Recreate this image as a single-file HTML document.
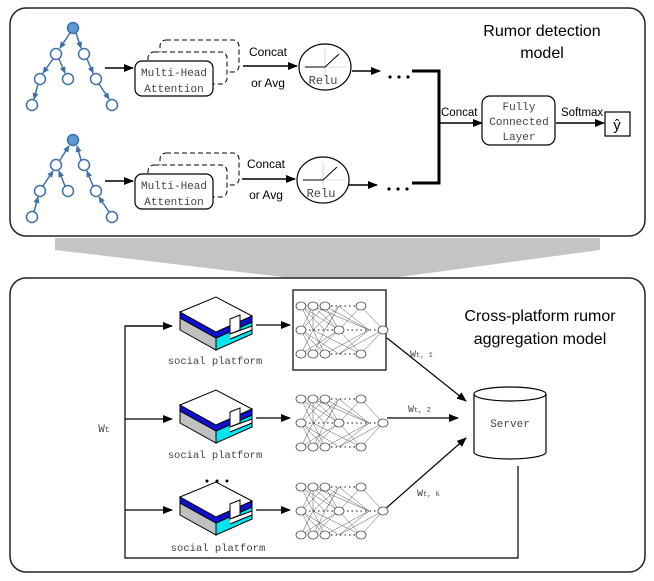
<!DOCTYPE html>
<html><head><meta charset="utf-8"><style>
html,body{margin:0;padding:0;background:#fff;width:654px;height:581px;overflow:hidden}
svg{display:block}
.s{font-family:"Liberation Mono","Noto Sans CJK SC",monospace;fill:#444}
.a{font-family:"Liberation Sans",sans-serif;fill:#000}
</style></head><body>
<svg width="654" height="581" viewBox="0 0 654 581" xmlns="http://www.w3.org/2000/svg">
<defs>
<marker id="ar" markerWidth="10" markerHeight="8" refX="9" refY="4" orient="auto" markerUnits="userSpaceOnUse"><path d="M0,0L10,4L0,8z" fill="#000"/></marker>
<marker id="ab" markerWidth="7" markerHeight="6" refX="6" refY="3" orient="auto" markerUnits="userSpaceOnUse"><path d="M0,0L7,3L0,6z" fill="#3d6fa8"/></marker>
<g id="plat" stroke="#000" stroke-width="1">
<path d="M0,6L36,26L36,38L0,18z" fill="#c0c0c0"/>
<path d="M36,26L72,10L72,22L36,38z" fill="#00e5f0"/>
<path d="M0,0L36,20L72,4L72,10L36,26L0,6z" fill="#1010d0"/>
<path d="M0,0L36,-15L72,4L36,20z" fill="#fff"/>
<path d="M50,7L60,3L60,18L50,22z" fill="#fff"/>
<path d="M50,22L72,14L72,18L50,27" fill="#fff"/>
</g>
<g id="nn" stroke="#555" stroke-width="0.5" fill="none">
<path d="M10,-24L-2,0M10,-24L10,0M10,-24L36,0M10,-24L66,0M-2,-24L10,0M-2,-24L36,0M22,-24L-2,0M22,-24L36,0M22,-24L66,0M36,-24L10,0M36,-24L66,0M58,-24L36,0M58,-24L80,0M-2,0L10,24M-2,0L22,24M-2,0L36,24M10,0L-2,24M10,0L22,24M10,0L58,24M36,0L-2,24M36,0L10,24M36,0L58,24M66,0L22,24M66,0L36,24M80,0L58,24M80,0L36,24M-2,-24L22,0M36,-24L22,0M22,0L10,24M22,0L36,-24"/>
<g fill="#fff" stroke="#444" stroke-width="0.8">
<ellipse cx="-2" cy="-24" rx="5" ry="4"/><ellipse cx="10" cy="-24" rx="5" ry="4"/><ellipse cx="22" cy="-24" rx="5" ry="4"/><ellipse cx="58" cy="-24" rx="5" ry="4"/>
<ellipse cx="-2" cy="0" rx="5" ry="4"/><ellipse cx="36" cy="0" rx="5" ry="4"/><ellipse cx="80" cy="0" rx="5" ry="4"/>
<ellipse cx="-2" cy="24" rx="5" ry="4"/><ellipse cx="10" cy="24" rx="5" ry="4"/><ellipse cx="22" cy="24" rx="5" ry="4"/><ellipse cx="58" cy="24" rx="5" ry="4"/>
</g>
<g stroke="#444" stroke-width="1.2" stroke-dasharray="1.5 3"><path d="M28,-24H52M6,0H30M44,0H74M28,24H52"/></g>
</g>
<g id="relu"><ellipse cx="0" cy="0" rx="26" ry="23" fill="#fff" stroke="#000" stroke-width="1.2"/>
<path d="M-22,0H22M0,-18V8" stroke="#bbb" stroke-width="0.6"/><path d="M-20,0H0L14,-13" stroke="#000" stroke-width="1" fill="none"/>
<text x="-2" y="17" class="s" font-size="12" text-anchor="middle" fill="#333">Relu</text></g>
<g id="mha">
<rect x="160" y="-28" width="79" height="32" rx="6" fill="#fff" stroke="#000" stroke-dasharray="5 3"/>
<rect x="148" y="-16" width="79" height="32" rx="6" fill="#fff" stroke="#000" stroke-dasharray="5 3"/>
<rect x="135" y="-7" width="78" height="35" rx="7" fill="#fff" stroke="#000" stroke-width="1.2"/>
<text x="174" y="8" class="s" font-size="11" text-anchor="middle">Multi-Head</text>
<text x="174" y="24" class="s" font-size="11" text-anchor="middle">Attention</text>
</g>
</defs>

<rect x="10" y="8" width="635" height="228" rx="16" fill="#fff" stroke="#222" stroke-width="1.5"/>
<polygon points="55,238 600,238 600,250 362,282 325,282 55,250" fill="#c4c4c4"/>
<rect x="10" y="278" width="635" height="294" rx="16" fill="#fff" stroke="#222" stroke-width="1.5"/>

<g stroke="#3d6fa8" stroke-width="1.5" marker-end="url(#ab)">
<line x1="70" y1="33" x2="60" y2="48"/><line x1="76" y1="33" x2="81" y2="48"/>
<line x1="53" y1="59" x2="43" y2="73"/><line x1="59" y1="59" x2="65" y2="73"/>
<line x1="87" y1="59" x2="93" y2="73"/><line x1="38" y1="84" x2="34" y2="99"/><line x1="99" y1="84" x2="109" y2="99"/>
</g>
<g stroke="#3d6fa8" stroke-width="1.5" fill="#fff">
<circle cx="73" cy="28" r="5.5" fill="#5b9bd5"/><circle cx="56" cy="54" r="5.5"/><circle cx="84" cy="54" r="5.5"/>
<circle cx="40" cy="79" r="5.5"/><circle cx="68" cy="79" r="5.5"/><circle cx="96" cy="79" r="5.5"/>
<circle cx="32" cy="105" r="5.5"/><circle cx="112" cy="105" r="5.5"/>
</g>
<g stroke="#3d6fa8" stroke-width="1.5" marker-end="url(#ab)">
<line x1="60" y1="160" x2="69" y2="146"/><line x1="81" y1="160" x2="77" y2="146"/>
<line x1="43" y1="186" x2="53" y2="171"/><line x1="65" y1="186" x2="59" y2="171"/>
<line x1="93" y1="186" x2="87" y2="171"/><line x1="34" y1="212" x2="38" y2="197"/><line x1="109" y1="212" x2="99" y2="197"/>
</g>
<g stroke="#3d6fa8" stroke-width="1.5" fill="#fff">
<circle cx="73" cy="140" r="5.5" fill="#5b9bd5"/><circle cx="56" cy="165" r="5.5"/><circle cx="84" cy="165" r="5.5"/>
<circle cx="40" cy="191" r="5.5"/><circle cx="68" cy="191" r="5.5"/><circle cx="96" cy="191" r="5.5"/>
<circle cx="32" cy="217" r="5.5"/><circle cx="112" cy="217" r="5.5"/>
</g>

<g stroke="#000" stroke-width="1.5">
<line x1="105" y1="68" x2="133" y2="68" marker-end="url(#ar)"/>
<line x1="105" y1="181" x2="133" y2="181" marker-end="url(#ar)"/>
<line x1="243" y1="66" x2="297" y2="66" marker-end="url(#ar)"/>
<line x1="242" y1="179" x2="295" y2="179" marker-end="url(#ar)"/>
<line x1="352" y1="71" x2="380" y2="71" marker-end="url(#ar)"/>
<line x1="349" y1="185" x2="377" y2="185" marker-end="url(#ar)"/>
<line x1="439" y1="123" x2="482" y2="123" marker-end="url(#ar)"/>
<line x1="556" y1="123" x2="604" y2="123" marker-end="url(#ar)"/>
</g>
<use href="#mha" x="0" y="68"/>
<use href="#mha" x="0" y="181"/>
<text x="268" y="56" class="a" font-size="12" text-anchor="middle">Concat</text>
<text x="268" y="87" class="a" font-size="12" text-anchor="middle">or Avg</text>
<text x="266" y="168" class="a" font-size="12" text-anchor="middle">Concat</text>
<text x="266" y="199" class="a" font-size="12" text-anchor="middle">or Avg</text>
<use href="#relu" x="325" y="67"/>
<use href="#relu" x="323" y="180"/>
<g fill="#000"><circle cx="390" cy="77" r="1.6"/><circle cx="399" cy="77" r="1.6"/><circle cx="408" cy="77" r="1.6"/>
<circle cx="389" cy="189" r="1.6"/><circle cx="398" cy="189" r="1.6"/><circle cx="407" cy="189" r="1.6"/></g>
<path d="M412,71H439V183H412" fill="none" stroke="#000" stroke-width="3"/>
<text x="441" y="116" class="a" font-size="11.5">Concat</text>
<rect x="482" y="96" width="73" height="49" rx="8" fill="#fff" stroke="#000" stroke-width="1.2"/>
<text x="519" y="110" class="s" font-size="11" text-anchor="middle">Fully</text>
<text x="519" y="125" class="s" font-size="11" text-anchor="middle">Connected</text>
<text x="519" y="140" class="s" font-size="11" text-anchor="middle">Layer</text>
<text x="561" y="116" class="a" font-size="11.5">Softmax</text>
<rect x="605" y="112" width="25" height="24" fill="#fff" stroke="#000" stroke-width="1.2"/>
<text x="617" y="130" class="a" font-size="15" text-anchor="middle">ŷ</text>
<text x="542" y="36" class="a" font-size="16" text-anchor="middle" fill="#111">Rumor detection</text>
<text x="542" y="58" class="a" font-size="16" text-anchor="middle" fill="#111">model</text>

<text x="540" y="321" class="a" font-size="16" text-anchor="middle" fill="#111">Cross-platform rumor</text>
<text x="540" y="344" class="a" font-size="16" text-anchor="middle" fill="#111">aggregation model</text>
<path d="M172,326H125V558H518V466" fill="none" stroke="#000" stroke-width="1.2"/>
<g stroke="#000" stroke-width="1.2">
<line x1="125" y1="326" x2="172" y2="326" marker-end="url(#ar)"/>
<line x1="125" y1="419" x2="172" y2="419" marker-end="url(#ar)"/>
<line x1="125" y1="510" x2="172" y2="510" marker-end="url(#ar)"/>
<line x1="256" y1="325" x2="290" y2="325" marker-end="url(#ar)"/>
<line x1="256" y1="418" x2="290" y2="418" marker-end="url(#ar)"/>
<line x1="256" y1="510" x2="290" y2="510" marker-end="url(#ar)"/>
<line x1="387" y1="338" x2="466" y2="401" marker-end="url(#ar)"/>
<line x1="387" y1="418" x2="458" y2="418" marker-end="url(#ar)"/>
<line x1="384" y1="510" x2="466" y2="438" marker-end="url(#ar)"/>
</g>
<text x="104" y="432" class="s" font-size="11" text-anchor="middle">W<tspan font-size="8">t</tspan></text>
<text x="410" y="357" class="s" font-size="10">W<tspan font-size="7">t, 1</tspan></text>
<text x="408" y="412" class="s" font-size="10">W<tspan font-size="7">t, 2</tspan></text>
<text x="417" y="496" class="s" font-size="10">W<tspan font-size="7">t, k</tspan></text>
<use href="#plat" x="180" y="312"/>
<use href="#plat" x="180" y="405"/>
<use href="#plat" x="180" y="497"/>
<text x="215" y="364" class="s" font-size="10.5" text-anchor="middle">social platform</text>
<text x="215" y="458" class="s" font-size="10.5" text-anchor="middle">social platform</text>
<text x="218" y="551" class="s" font-size="10.5" text-anchor="middle">social platform</text>
<g fill="#000"><circle cx="207" cy="481" r="1.5"/><circle cx="217" cy="481" r="1.5"/><circle cx="227" cy="481" r="1.5"/></g>
<rect x="293" y="290" width="93" height="80" fill="#fff" stroke="#000" stroke-width="1.2"/>
<use href="#nn" x="303" y="330"/>
<use href="#nn" x="303" y="423"/>
<use href="#nn" x="303" y="511"/>
<path d="M474,394V452A36,7 0 0 0 546,452V394" fill="#fff" stroke="#000" stroke-width="1.2"/>
<ellipse cx="510" cy="394" rx="36" ry="7" fill="#fff" stroke="#000" stroke-width="1.2"/>
<text x="510" y="427" class="s" font-size="11" text-anchor="middle">Server</text>
</svg>
</body></html>
